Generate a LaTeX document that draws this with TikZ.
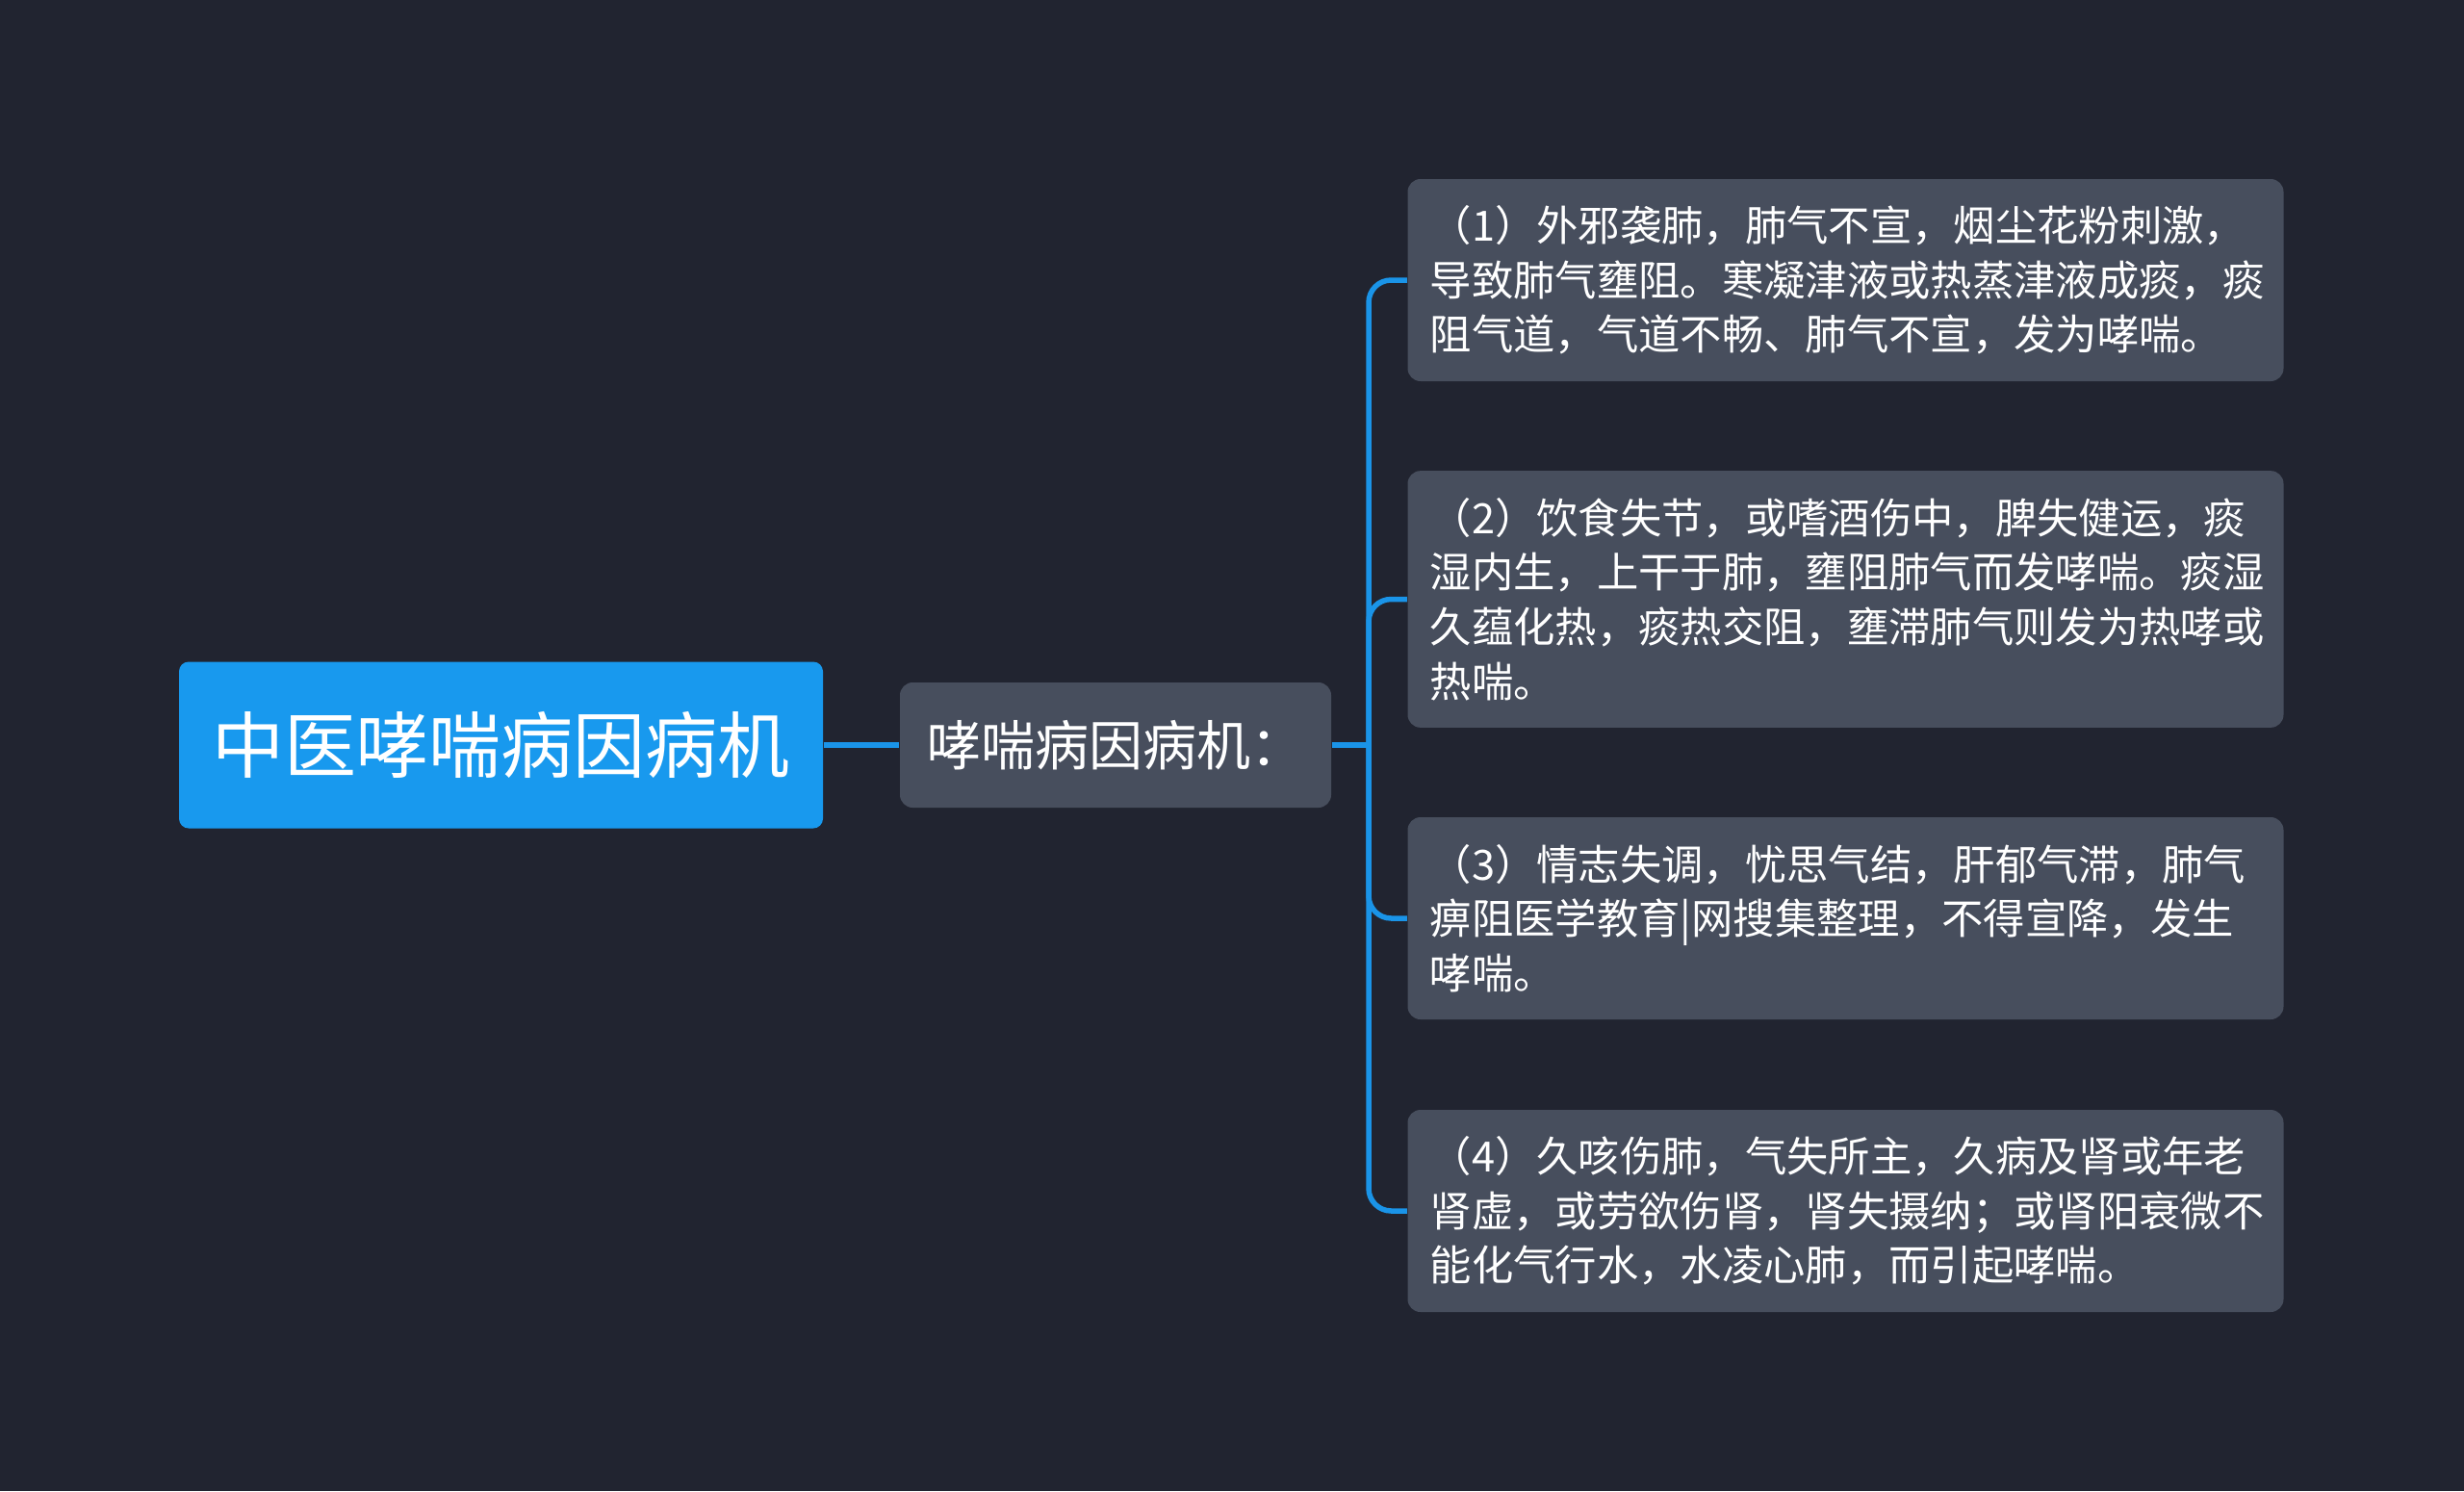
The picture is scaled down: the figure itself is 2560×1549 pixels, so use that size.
\documentclass[tikz,border=0pt]{standalone}
\usepackage{fontspec}
\setmainfont{Noto Sans CJK SC}
\definecolor{bgcol}{HTML}{212430}
\definecolor{rootblue}{HTML}{1899EE}
\definecolor{boxgray}{HTML}{474E5D}
\definecolor{linkblue}{HTML}{1A94E8}
\tikzset{
  rootbox/.style={rectangle, rounded corners=3pt, fill=rootblue, text=white,
    minimum width=200.7pt, minimum height=51.9pt, inner sep=0pt,
    font=\fontsize{22.5pt}{27pt}\selectfont},
  midbox/.style={rectangle, rounded corners=4pt, fill=boxgray, text=white,
    minimum width=134.4pt, minimum height=39pt, inner sep=0pt,
    font=\fontsize{16.8pt}{20pt}\selectfont},
  leafbox/.style={rectangle, rounded corners=4pt, fill=boxgray, text=white,
    text width=259pt, inner xsep=7pt, inner ysep=0pt, align=left,
    font=\fontsize{13pt}{17pt}\selectfont},
  link/.style={draw=linkblue, line width=1.65pt}
}

\begin{document}
\begin{tikzpicture}[x=0.3pt,y=-0.3pt]
    \fill[bgcol] (0,0) rectangle (2560,1549);
    %
    \node[rootbox] (root) at (520.5,774) {中医哮喘病因病机};
    \node[midbox]  (mid)  at (1159,774)  {哮喘病因病机：};
    %
    \node[leafbox, minimum height=63pt] (c1) at (1917.5,291)
      {（1）外邪袭肺，肺气不宣，烟尘花粉刺激，\\导致肺气壅阻。寒凝津液或热蒸津液成痰，痰\\阻气道，气道不畅、肺气不宣，发为哮喘。};
    \node[leafbox, minimum height=80pt] (c2) at (1917.5,622.5)
      {（2）饮食失节，或嗜酒伤中，脾失健运，痰\\湿内生，上干于肺，壅阻肺气而发哮喘。痰湿\\久蕴化热，痰热交阻，壅滞肺气则发为热哮或\\热喘。};
    \node[leafbox, minimum height=63pt] (c3) at (1917.5,954)
      {（3）情志失调，忧思气结，肝郁气滞，肺气\\痹阻医学教育|网搜集整理，不得宣降，发生\\哮喘。};
    \node[leafbox, minimum height=63pt] (c4) at (1917.5,1258)
      {（4）久咳伤肺，气失所主，久病及肾或年老\\肾虚，或劳欲伤肾，肾失摄纳；或肾阳衰微不\\能化气行水，水凌心肺，而引起哮喘。};
    %
    \coordinate (hub) at (1422,774);
    \draw[link] (root) -- (mid);
    \draw[link] (mid) -- (hub);
    \foreach \c in {c1,c2,c3,c4}
      \draw[link, rounded corners=7pt] (hub) |- (\c.west);
\end{tikzpicture}
\end{document}
